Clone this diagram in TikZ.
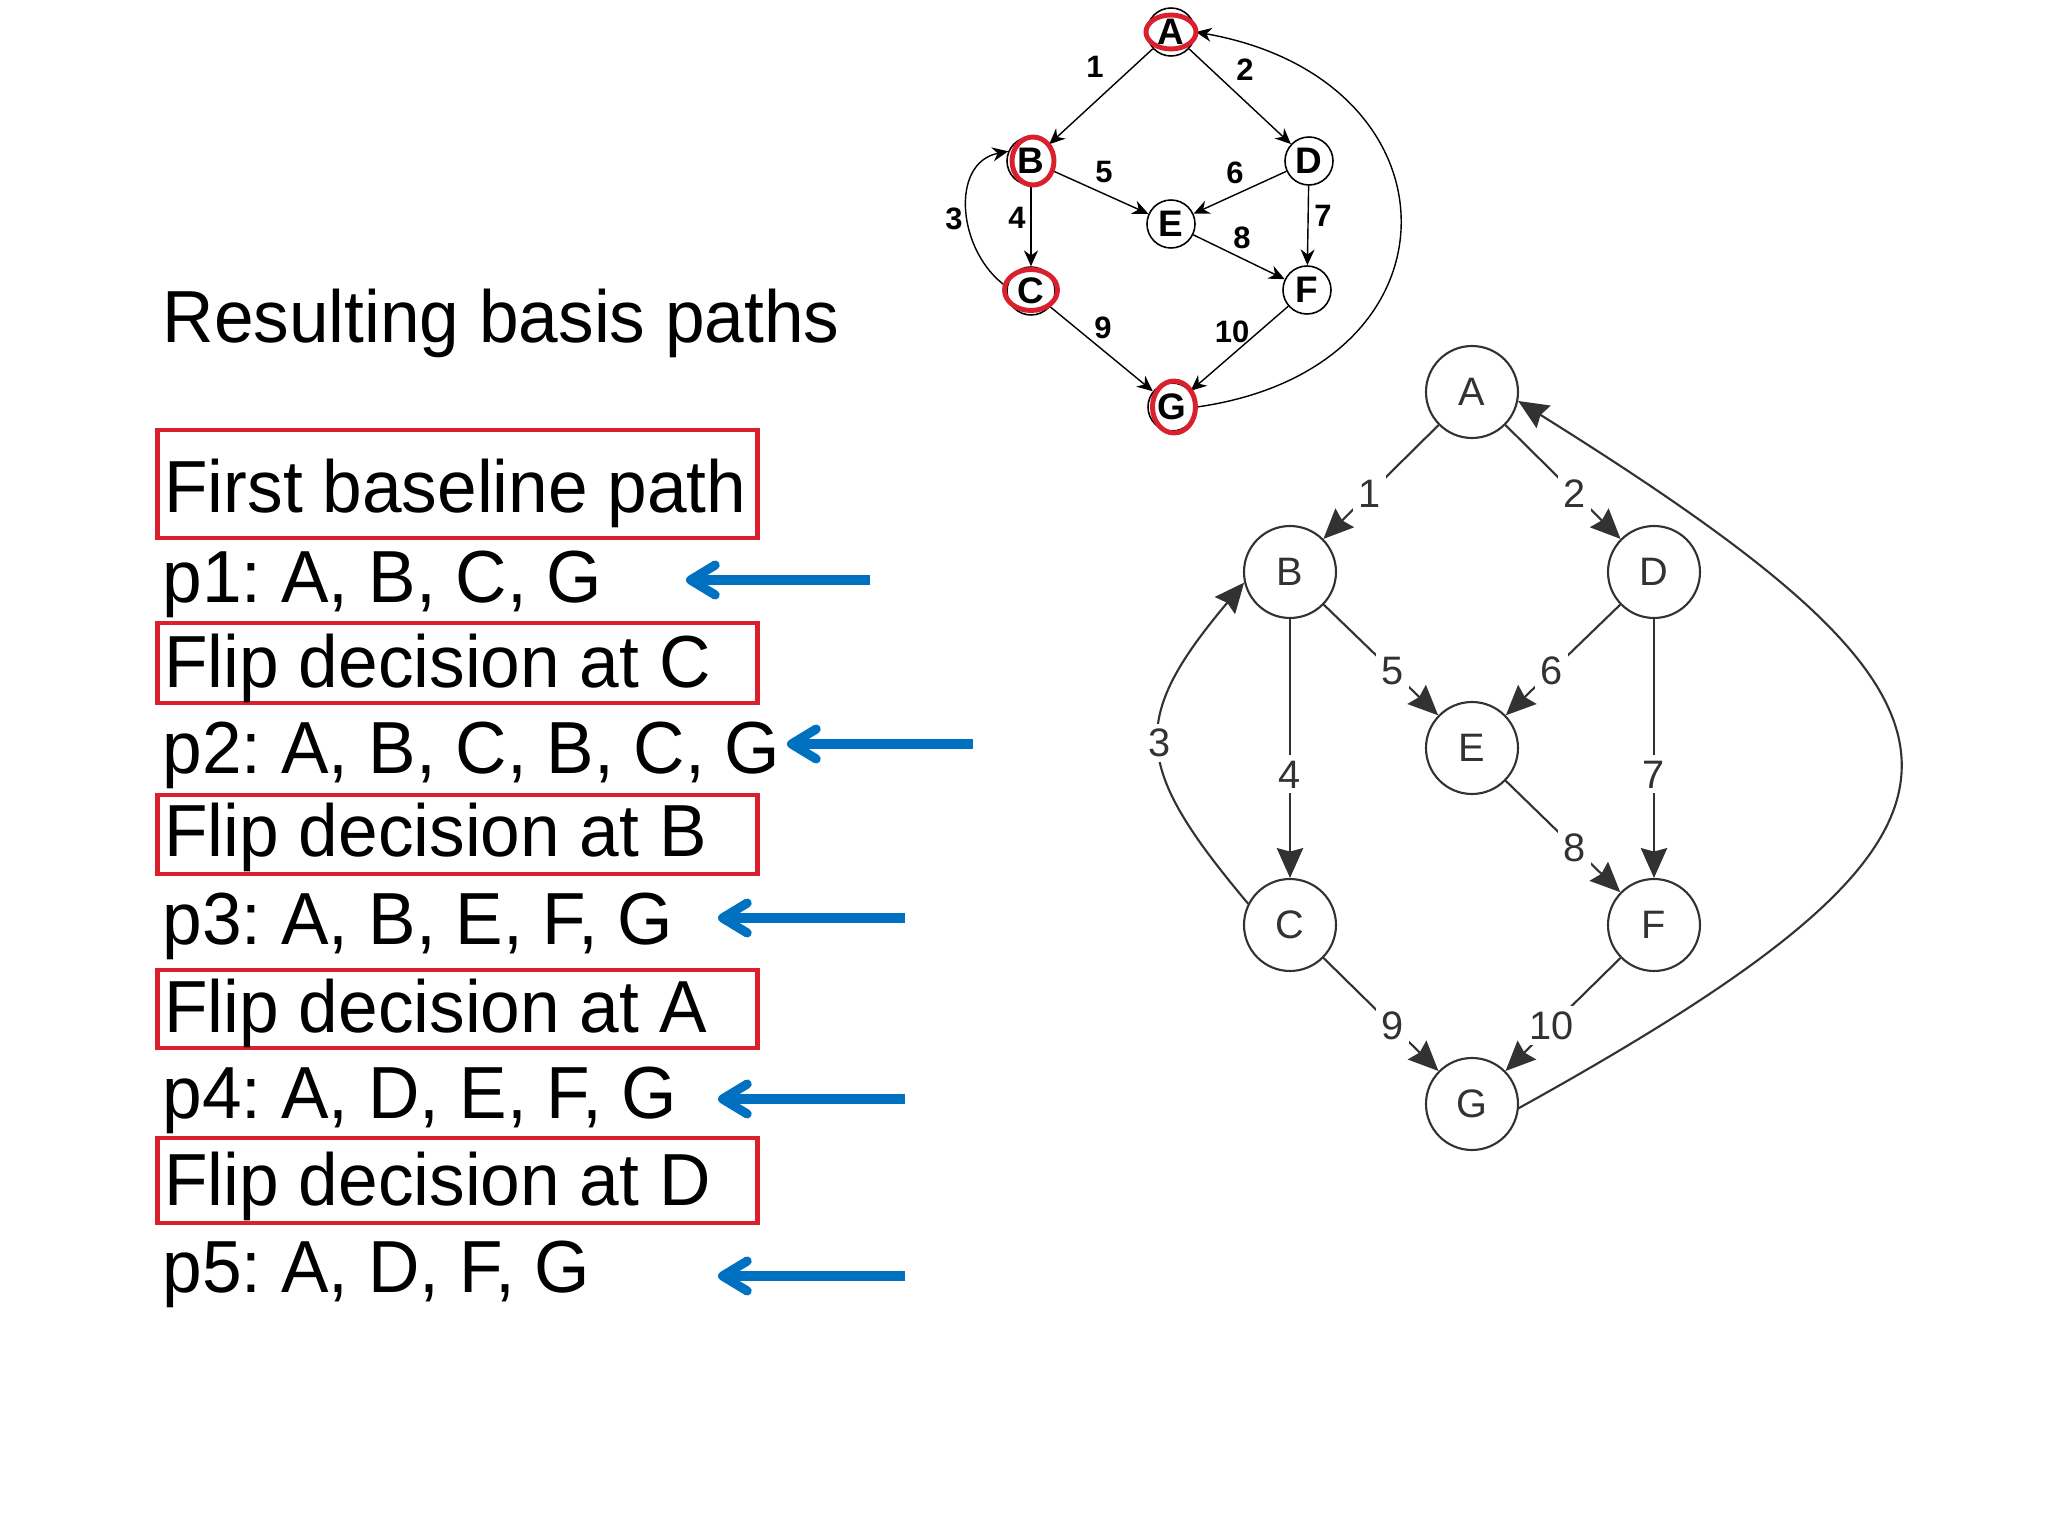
\documentclass[tikz,border=0pt]{standalone}
\usepackage{fontspec}
\setmainfont{Liberation Sans}
\newfontfamily\listfont{Liberation Sans}[FakeStretch=0.965]
\usepackage{tikz}
\usetikzlibrary{arrows.meta}
\usetikzlibrary{backgrounds,positioning,calc}
\pgfdeclarelayer{edgelayer}
\pgfdeclarelayer{nodelayer}
\pgfsetlayers{background,edgelayer,nodelayer,main}
\frenchspacing
\definecolor{boxred}{RGB}{218,32,44}
\definecolor{arrowblue}{RGB}{0,112,192}
\definecolor{inkgrey}{RGB}{50,50,50}
\tikzstyle{none}=[inner sep=0mm]
\tikzstyle{big node}=[circle,draw=inkgrey,fill=white,line width=0.6pt,minimum size=9.2mm,inner sep=0pt,text=inkgrey,font=\fontsize{11.3}{13}\selectfont]
\tikzstyle{small node}=[circle,draw=black,fill=white,line width=0.45pt,minimum size=4.8mm,inner sep=0pt,font=\bfseries\fontsize{10.5}{12}\selectfont]
\tikzstyle{big edge}=[draw=inkgrey,line width=0.6pt,-{Stealth[length=8.5pt,width=7.5pt,inset=1pt]}]
\tikzstyle{small edge}=[draw=black,line width=0.4pt,-{Stealth[length=4.5pt,width=4pt]}]
\tikzstyle{big lab}=[fill=white,inner sep=1.5pt,text=inkgrey,font=\fontsize{11.3}{13}\selectfont,pos=0.6]
\tikzstyle{small lab}=[inner sep=0pt,midway,font=\bfseries\fontsize{8.8}{10}\selectfont]
\tikzstyle{red ring}=[draw=boxred,line width=1.4pt]
\tikzstyle{path line}=[anchor=base west,inner sep=0pt,font=\listfont\fontsize{21}{25}\selectfont]
\tikzstyle{path box}=[path line,draw=boxred,line width=1.4pt,inner xsep=0.07cm,inner ysep=0pt,
	execute at begin node={\hbox to 5.86cm\bgroup},execute at end node={\hfil\egroup}]
\tikzstyle{blue arrow}=[draw=arrowblue,line width=2.6pt,-{Straight Barb[length=7pt,width=8.5pt,round]}]

\begin{document}
\begin{tikzpicture}
	\begin{pgfonlayer}{background}
		\fill[white] (0,0) rectangle (20.48,-15.36);
	\end{pgfonlayer}
	\useasboundingbox (0,0) rectangle (20.48,-15.36);
	% list of basis paths
	\node [style=path line] (title) at (1.62,-3.43) {Resulting basis paths};
	\node [style=path box,text height=0.83cm,text depth=0.25cm] (fb) at (1.55,-5.13) {First baseline path};
	\node [style=path line] (p1) at (1.62,-6.03) {p1: A, B, C, G};
	\node [style=path box,text height=0.65cm,text depth=0.15cm] (fc) at (1.55,-6.88) {Flip decision at C};
	\node [style=path line] (p2) at (1.62,-7.73) {p2: A, B, C, B, C, G};
	\node [style=path box,text height=0.62cm,text depth=0.17cm] (fbb) at (1.55,-8.57) {Flip decision at B};
	\node [style=path line] (p3) at (1.62,-9.45) {p3: A, B, E, F, G};
	\node [style=path box,text height=0.62cm,text depth=0.16cm] (fa) at (1.55,-10.32) {Flip decision at A};
	\node [style=path line] (p4) at (1.62,-11.18) {p4: A, D, E, F, G};
	\node [style=path box,text height=0.67cm,text depth=0.18cm] (fd) at (1.55,-12.05) {Flip decision at D};
	\node [style=path line] (p5) at (1.62,-12.92) {p5: A, D, F, G};
	\coordinate (t1) at (8.70,-5.80);
	\coordinate (h1) at (6.86,-5.80);
	\coordinate (t2) at (9.73,-7.44);
	\coordinate (h2) at (7.87,-7.44);
	\coordinate (t3) at (9.05,-9.18);
	\coordinate (h3) at (7.18,-9.18);
	\coordinate (t4) at (9.05,-10.99);
	\coordinate (h4) at (7.18,-10.99);
	\coordinate (t5) at (9.05,-12.76);
	\coordinate (h5) at (7.18,-12.76);
	\foreach \i in {1,...,5}
		\draw[blue arrow] (t\i) -- (h\i);
	% small graph
	\begin{pgfonlayer}{nodelayer}
		\node [style=small node] (a) at (11.71,-0.32) {A};
		\node [style=small node] (b) at (10.31,-1.61) {B};
		\node [style=small node] (d) at (13.09,-1.61) {D};
		\node [style=small node] (e) at (11.71,-2.24) {E};
		\node [style=small node] (c) at (10.31,-2.91) {C};
		\node [style=small node] (f) at (13.07,-2.90) {F};
		\node [style=small node] (g) at (11.72,-4.07) {G};
	\end{pgfonlayer}
	\begin{pgfonlayer}{edgelayer}
		\draw[small edge] (a) -- node[small lab,xshift=-0.06cm,yshift=0.30cm] (s1) {1} (b);
		\draw[small edge] (a) -- node[small lab,xshift=0.05cm,yshift=0.27cm] (s2) {2} (d);
		\draw[small edge] (b) -- node[small lab,xshift=-0.14cm,yshift=0.08cm] (s4) {4} (c);
		\draw[small edge] (b) -- node[small lab,xshift=0.03cm,yshift=0.20cm] (s5) {5} (e);
		\draw[small edge] (d) -- node[small lab,xshift=-0.05cm,yshift=0.20cm] (s6) {6} (e);
		\draw[small edge] (d) -- node[small lab,xshift=0.15cm,yshift=0.10cm] (s7) {7} (f);
		\draw[small edge] (e) -- node[small lab,xshift=0.03cm,yshift=0.19cm] (s8) {8} (f);
		\draw[small edge] (c) -- node[small lab,xshift=0.015cm,yshift=0.21cm] (s9) {9} (g);
		\draw[small edge] (f) -- node[small lab,xshift=-0.075cm,yshift=0.165cm] (s10) {10} (g);
		\draw[small edge] (c.170) .. controls +(145:0.6) and +(191:0.6) .. (b.157) node[small lab,xshift=-0.13cm,yshift=-0.08cm] (s3) {3};
		\draw[small edge] (g.east) .. controls +(8:2.75) and +(-10:2.75) .. (a.east);
	\end{pgfonlayer}
	\draw[red ring] (a) ellipse [x radius=0.25cm,y radius=0.17cm];
	\draw[red ring] ([xshift=0.02cm]b.center) ellipse [x radius=0.21cm,y radius=0.24cm];
	\draw[red ring] ([yshift=0.01cm]c.center) ellipse [x radius=0.265cm,y radius=0.205cm];
	\draw[red ring] ([xshift=0.02cm]g.center) ellipse [x radius=0.215cm,y radius=0.26cm];
	% large graph
	\begin{pgfonlayer}{nodelayer}
		\node [style=big node] (A) at (14.72,-3.92) {A};
		\node [style=big node] (B) at (12.90,-5.72) {B};
		\node [style=big node] (D) at (16.54,-5.72) {D};
		\node [style=big node] (E) at (14.72,-7.48) {E};
		\node [style=big node] (C) at (12.90,-9.25) {C};
		\node [style=big node] (F) at (16.54,-9.25) {F};
		\node [style=big node] (G) at (14.72,-11.04) {G};
	\end{pgfonlayer}
	\begin{pgfonlayer}{edgelayer}
		\draw[big edge] (A) -- node[big lab] (l1) {1} (B);
		\draw[big edge] (A) -- node[big lab] (l2) {2} (D);
		\draw[big edge] (B) -- node[big lab] (l4) {4} (C);
		\draw[big edge] (B) -- node[big lab] (l5) {5} (E);
		\draw[big edge] (D) -- node[big lab] (l6) {6} (E);
		\draw[big edge] (D) -- node[big lab] (l7) {7} (F);
		\draw[big edge] (E) -- node[big lab] (l8) {8} (F);
		\draw[big edge] (C) -- node[big lab] (l9) {9} (G);
		\draw[big edge] (F) -- node[big lab] (l10) {10} (G);
		\draw[big edge] (C.153) .. controls +(130:1.8) and +(230:1.8) .. (B.193) node[big lab,pos=0.5] (l3) {3};
		\draw[big edge] (G.-5) .. controls +(29:5.89) and +(-32:5.89) .. (A.-11);
	\end{pgfonlayer}
\end{tikzpicture}
\end{document}
